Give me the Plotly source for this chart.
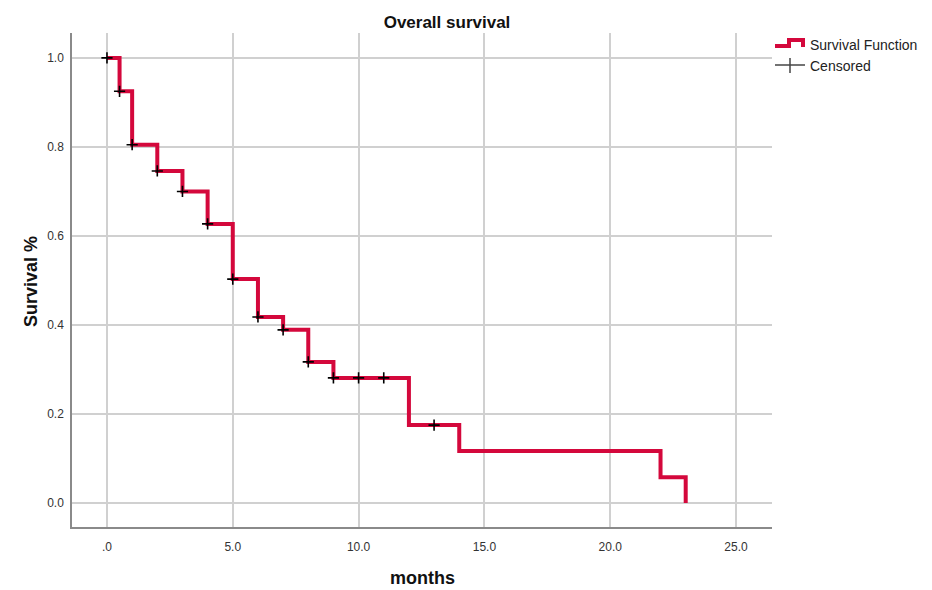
import plotly.graph_objects as go

# Kaplan-Meier estimate: event times (months) and survival after each step
step_months = [0, 0.5, 1, 2, 3, 4, 5, 6, 7, 8, 9, 12, 14, 22, 23]
survival = [1.0, 0.925, 0.805, 0.746, 0.700, 0.627, 0.503, 0.418, 0.389,
            0.317, 0.281, 0.175, 0.117, 0.058, 0.0]

# Censored observations
censor_months = [0, 0.5, 1, 2, 3, 4, 5, 6, 7, 8, 9, 10, 11, 13]
censor_surv = [1.0, 0.925, 0.805, 0.746, 0.700, 0.627, 0.503, 0.418, 0.389,
               0.317, 0.281, 0.281, 0.281, 0.175]

x_ticks = [0, 5, 10, 15, 20, 25]
x_tick_text = [".0", "5.0", "10.0", "15.0", "20.0", "25.0"]
y_ticks = [0.0, 0.2, 0.4, 0.6, 0.8, 1.0]
y_tick_text = ["0.0", "0.2", "0.4", "0.6", "0.8", "1.0"]

RED = "#D4083C"
FONT = "Liberation Sans, Arial, sans-serif"

fig = go.Figure()
fig.add_trace(go.Scatter(
    x=step_months, y=survival, mode="lines", line_shape="hv",
    line=dict(color=RED, width=4), name="Survival Function",
    showlegend=False, hoverinfo="x+y",
))
fig.add_trace(go.Scatter(
    x=censor_months, y=censor_surv, mode="markers",
    marker=dict(symbol="cross-thin", size=8, line=dict(color="black", width=1.6)),
    name="Censored", showlegend=False,
))

# Legend and axis titles drawn by hand so the survival icon can be a step
L, R, T, B = 72, 160, 33, 63
W, H = 932 - L - R, 590 - T - B


def px(xp):
    return (xp - L) / W


def py(yp):
    return (590 - B - yp) / H


shapes = [
    dict(type="path", xref="paper", yref="paper",
         path=f"M{px(775)},{py(46)} L{px(789)},{py(46)} L{px(789)},{py(40)} "
              f"L{px(803)},{py(40)} L{px(803)},{py(47)}",
         line=dict(color=RED, width=4)),
    dict(type="line", xref="paper", yref="paper",
         x0=px(775), x1=px(805), y0=py(65), y1=py(65),
         line=dict(color="#444", width=1.5)),
    dict(type="line", xref="paper", yref="paper",
         x0=px(790), x1=px(790), y0=py(58), y1=py(73),
         line=dict(color="#444", width=1.5)),
]
annotations = [
    dict(text="Survival Function", xref="paper", yref="paper",
         x=px(808), y=py(45), xanchor="left", yanchor="middle",
         showarrow=False, font=dict(size=14, color="#222", family=FONT)),
    dict(text="Censored", xref="paper", yref="paper",
         x=px(808), y=py(66), xanchor="left", yanchor="middle",
         showarrow=False, font=dict(size=14, color="#222", family=FONT)),
    dict(text="<b>months</b>", xref="paper", yref="paper",
         x=px(422), y=py(578), xanchor="center", yanchor="middle",
         showarrow=False, font=dict(size=18, color="#111", family=FONT)),
    dict(text="<b>Survival %</b>", xref="paper", yref="paper",
         x=px(31), y=py(282), xanchor="center", yanchor="middle",
         textangle=-90, showarrow=False,
         font=dict(size=18, color="#111", family=FONT)),
]

fig.update_layout(
    width=932, height=590,
    margin=dict(l=L, r=R, t=T, b=B, autoexpand=False),
    paper_bgcolor="white", plot_bgcolor="white",
    font=dict(family=FONT, color="#222"),
    title=dict(text="<b>Overall survival</b>", x=px(447), xref="paper",
               xanchor="center", y=1 - 22 / 590, yanchor="middle",
               font=dict(size=17, color="#111")),
    shapes=shapes, annotations=annotations,
    showlegend=False,
)
fig.update_xaxes(
    range=[-1.39, 26.43], tickvals=x_ticks, ticktext=x_tick_text,
    showgrid=True, gridcolor="#d0d0d0", gridwidth=1.5,
    showline=True, linecolor="#8a8a8a", linewidth=1.5,
    zeroline=False, ticks="outside", ticklen=8, tickcolor="rgba(0,0,0,0)",
    tickfont=dict(size=12, color="#333"), automargin=False,
)
fig.update_yaxes(
    range=[-0.054, 1.056], tickvals=y_ticks, ticktext=y_tick_text,
    showgrid=True, gridcolor="#d0d0d0", gridwidth=1.5,
    showline=True, linecolor="#8a8a8a", linewidth=1.5,
    zeroline=False, ticks="outside", ticklen=4, tickcolor="rgba(0,0,0,0)",
    tickfont=dict(size=12, color="#333"), automargin=False,
)

fig.write_html("out.html")
